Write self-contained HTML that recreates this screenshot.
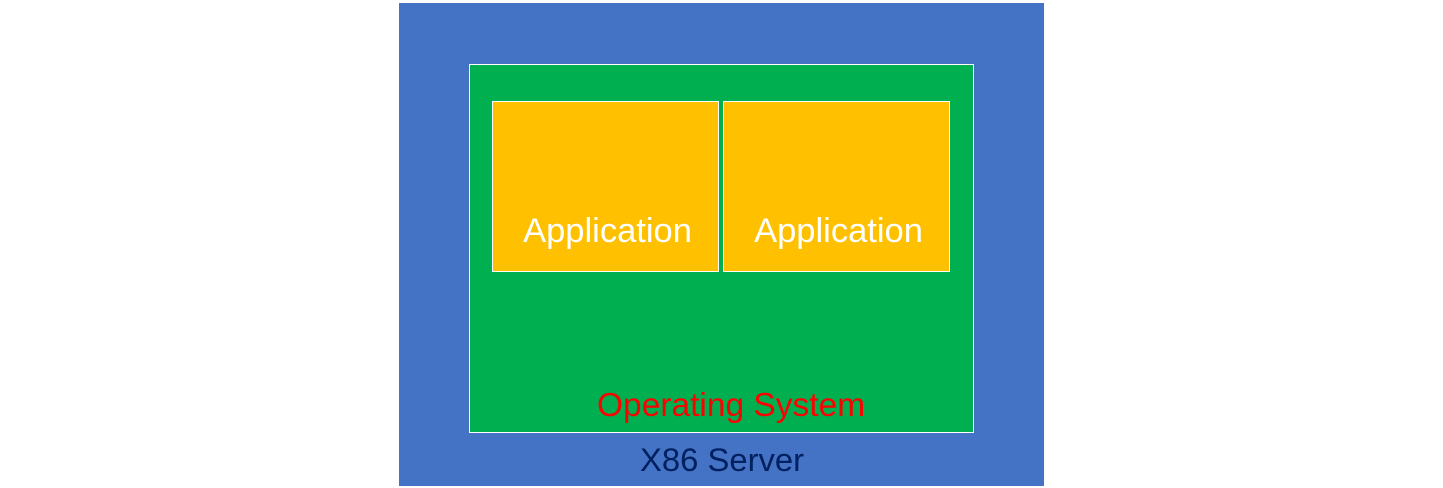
<!DOCTYPE html>
<html><head><style>
body{margin:0;width:1443px;height:488px;background:#fff;position:relative;overflow:hidden;font-family:"Liberation Sans",sans-serif}
div{position:absolute;box-sizing:border-box}
.t{white-space:nowrap}
</style></head><body>
<div style="left:399px;top:3px;width:645px;height:483px;background:#4472c4"></div>
<div style="left:469px;top:64px;width:505px;height:369px;background:#00b050;border:1px solid #fff"></div>
<div style="left:492px;top:101px;width:227px;height:171px;background:#ffc000;border:1px solid #fff"></div>
<div style="left:723px;top:101px;width:227px;height:171px;background:#ffc000;border:1px solid #fff"></div>
<div class="t" style="left:492px;top:212px;width:231px;text-align:center;color:#fff;font-size:34.5px">Application</div>
<div class="t" style="left:723px;top:212px;width:231px;text-align:center;color:#fff;font-size:34.5px">Application</div>
<div class="t" style="left:597px;top:387px;color:#ff0000;font-size:33.5px">Operating System</div>
<div class="t" style="left:640px;top:441px;color:#002060;font-size:32.8px">X86 Server</div>
</body></html>
